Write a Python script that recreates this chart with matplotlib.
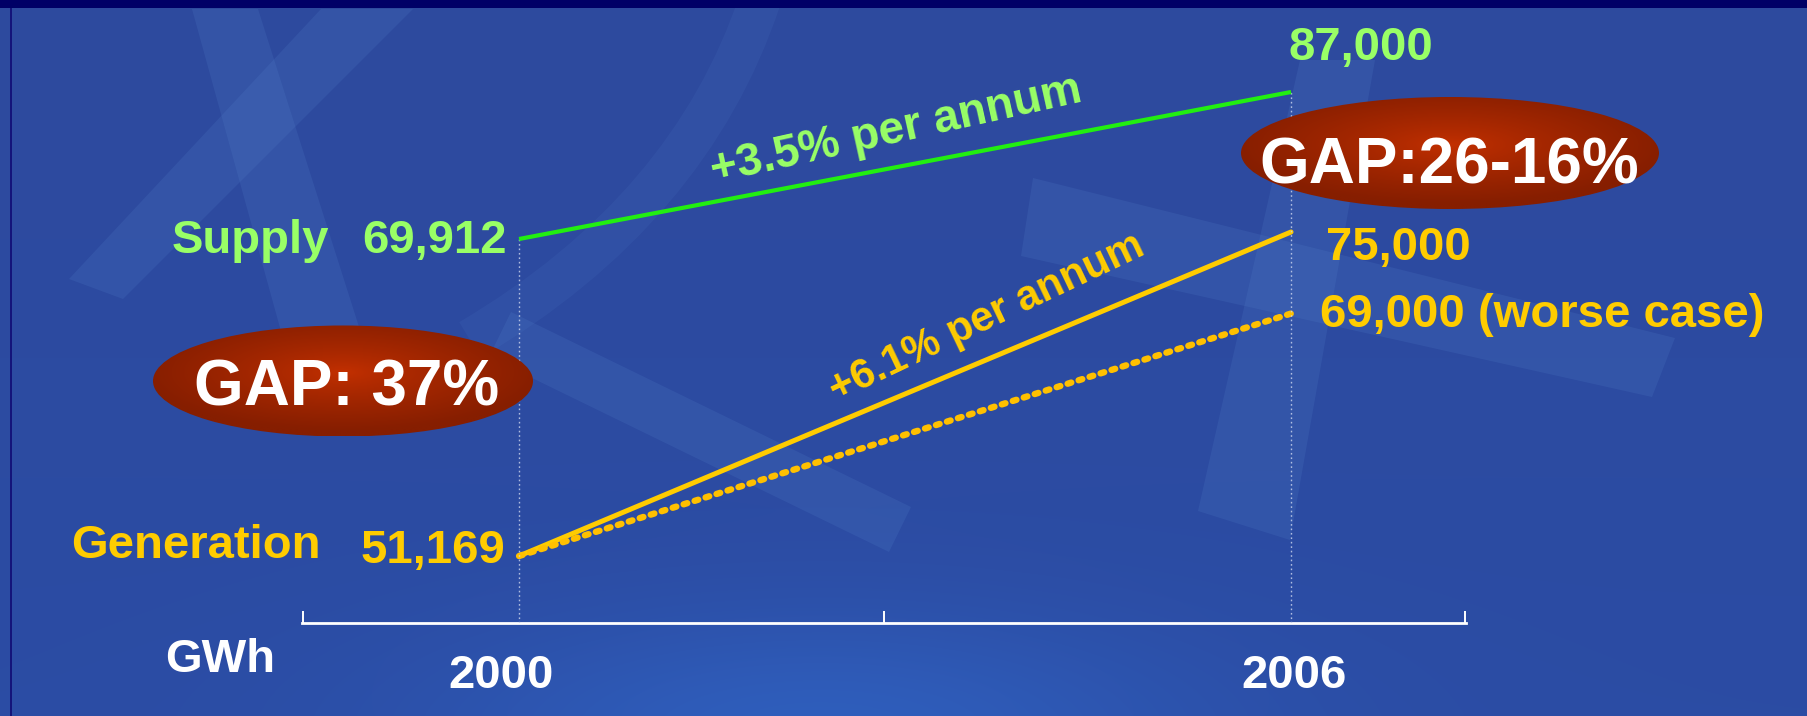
import numpy as np
import matplotlib
matplotlib.use('Agg')
import matplotlib.pyplot as plt
from matplotlib.patches import Ellipse, Polygon, Rectangle, PathPatch
from matplotlib.path import Path

# ---------------- data ----------------
years = [2000, 2006]
supply = [69912, 87000]
generation = [51169, 75000]
generation_worst = [51169, 69000]
supply_labels = ['69,912', '87,000']
generation_labels = ['51,169', '75,000']
worst_label = '69,000 (worse case)'
series_names = ['Supply', 'Generation']
year_labels = ['2000', '2006']
gap_labels = ['GAP: 37%', 'GAP:26-16%']
growth_labels = ['+3.5% per annum', '+6.1% per annum']
unit_label = 'GWh'

# ---------------- style ----------------
W, H = 1807, 716
FONT = 'Liberation Sans'
GREEN_TXT = '#99FF66'
GREEN_LINE = '#22EE11'
YELLOW = '#FFCC00'
YELLOW_D = '#FFC000'
NAVY = '#000066'

fig = plt.figure(figsize=(W / 100, H / 100), dpi=100)

# ---------------- background ----------------
bg = fig.add_axes([0, 0, 1, 1], zorder=0)
yy, xx = np.mgrid[0:H, 0:W]
base = np.array([46, 74, 158]) / 255.0
img = np.ones((H, W, 3)) * base
blob = np.exp(-(((xx - 820) / 380.0) ** 2 + ((yy - 730) / 120.0) ** 2))
img += blob[..., None] * (np.array([4, 18, 24]) / 255.0)
grad = (yy / H)[..., None] * (np.array([-3, 2, 6]) / 255.0)
img = np.clip(img + grad, 0, 1)
bg.imshow(img, extent=(0, W, H, 0), aspect='auto', interpolation='bilinear')
bg.set_xlim(0, W)
bg.set_ylim(H, 0)
bg.axis('off')

deco = (90 / 255, 140 / 255, 210 / 255)
polys = [
    [(192, 9), (258, 9), (360, 330), (282, 335)],
    [(321, 9), (413, 9), (123, 299), (69, 279)],
    [(511, 312), (911, 507), (889, 552), (489, 357)],
    [(1033, 178), (1675, 338), (1652, 397), (1021, 256)],
    [(1300, 60), (1375, 60), (1290, 540), (1198, 511)],
]
for p in polys:
    bg.add_patch(Polygon(p, closed=True, facecolor=deco, edgecolor='none', alpha=0.16))
curve = Path([(470, 340), (690, 210), (760, 0)], [Path.MOVETO, Path.CURVE3, Path.CURVE3])
bg.add_patch(PathPatch(curve, facecolor='none', edgecolor=deco, lw=30, alpha=0.1))

bg.add_patch(Rectangle((0, 0), W, 8, facecolor=NAVY, edgecolor='none'))
corner = np.linspace(0, 1, 60)[None, :, None]
cimg = (1 - corner) * np.array([0.1, 0.5, 0.8]) + corner * np.array([0, 0, 0.4])
bg.imshow(np.repeat(cimg, 4, axis=0), extent=(0, 60, 8, 0), aspect='auto')
bg.add_patch(Rectangle((10.5, 8), 2, H, facecolor='#14147A', edgecolor='none'))
bg.set_xlim(0, W)
bg.set_ylim(H, 0)

# ---------------- data axes ----------------
L, R, AXB = 302, 1466, 623
ax = fig.add_axes([L / W, (H - AXB) / H, (R - L) / W, AXB / H], zorder=1)
ax.patch.set_alpha(0)
x0, x1 = 1998.313, 2007.360
ax.set_xlim(x0, x1)
ax.set_ylim(46241, 92063)
ax2 = ax.twinx()
ax2.set_zorder(2)
ax2.set_ylim(25275, 97694)

for s in ['top', 'left', 'right']:
    ax.spines[s].set_visible(False)
for s in ax2.spines.values():
    s.set_visible(False)
ax.spines['bottom'].set_color('white')
ax.spines['bottom'].set_linewidth(2)
ax.set_xticks([x0 + 0.005, (x0 + x1) / 2, x1 - 0.005])
ax.tick_params(axis='x', direction='in', length=9, width=1.4, colors='white', labelbottom=False)
ax.set_yticks([])
ax2.set_yticks([])

# dotted guides
ax2.vlines(years, ax2.get_ylim()[0], supply, colors='#C8D2EC', lw=1.0,
           linestyles=(0, (1.2, 2.0)), alpha=0.85, zorder=1)

# lines
ax2.plot(years, supply, color=GREEN_LINE, lw=3.0, solid_capstyle='butt', zorder=3)
ax.plot(years, generation, color=YELLOW, lw=3.6, solid_capstyle='round', zorder=3)
ax.plot(years, generation_worst, color=YELLOW_D, lw=4.6, ls=(0, (0.6, 1.2)),
        dash_capstyle='round', zorder=3)

tkw = dict(fontsize=34, fontweight='bold', family=FONT, textcoords='offset pixels',
           va='baseline', annotation_clip=False)

# supply labels
ax2.annotate(series_names[0], (years[0], supply[0]), xytext=(-347, -14), ha='left',
             color=GREEN_TXT, **tkw)
ax2.annotate(supply_labels[0], (years[0], supply[0]), xytext=(-12, -14), ha='right',
             color=GREEN_TXT, **tkw)
ax2.annotate(supply_labels[1], (years[1], supply[1]), xytext=(-3, 32), ha='left',
             color=GREEN_TXT, **tkw)

# generation labels
ax.annotate(series_names[1], (years[0], generation[0]), xytext=(-448, -2), ha='left',
            color=YELLOW, **tkw)
ax.annotate(generation_labels[0], (years[0], generation[0]), xytext=(-14, -7), ha='right',
            color=YELLOW, **tkw)
ax.annotate(generation_labels[1], (years[1], generation[1]), xytext=(35, -28), ha='left',
            color=YELLOW, **tkw)
ax.annotate(worst_label, (years[1], generation_worst[1]), xytext=(29, -13), ha='left',
            color=YELLOW, **tkw)

# x-axis labels
for yr, lab, dx in zip(years, year_labels, [-18, 3]):
    ax.annotate(lab, (yr, 0), xycoords=('data', 'axes fraction'), xytext=(dx, -65),
                ha='center', color='white', **tkw)
ax.annotate(unit_label, (0, 0), xycoords='axes fraction', xytext=(-137, -49),
            ha='left', color='white', **tkw)

# ---------------- overlay: ellipses and growth notes ----------------
ov = fig.add_axes([0, 0, 1, 1], zorder=4)
ov.set_xlim(0, W)
ov.set_ylim(H, 0)
ov.axis('off')


def gradient_ellipse(cx, cy, w, h):
    e = Ellipse((cx, cy), w, h, facecolor='none', edgecolor='none')
    ov.add_patch(e)
    n = 240
    gy, gx = np.mgrid[-1:1:n * 1j, -1:1:n * 1j]
    r = np.clip(np.sqrt(gx ** 2 + (gy + 0.15) ** 2) / 1.05, 0, 1)
    c0 = np.array([196, 48, 0]) / 255.0
    c1 = np.array([134, 30, 0]) / 255.0
    im_ = c0 + (c1 - c0) * (r[..., None] ** 0.8)
    im = ov.imshow(im_, extent=(cx - w / 2, cx + w / 2, cy + h / 2, cy - h / 2),
                   aspect='auto', interpolation='bilinear', zorder=1)
    im.set_clip_path(e)


gradient_ellipse(343, 381, 380, 111)
gradient_ellipse(1450, 153, 418, 112)
ov.set_xlim(0, W)
ov.set_ylim(H, 0)

gkw = dict(fontsize=46, fontweight='bold', family=FONT, color='white', ha='center',
           va='baseline', zorder=2)
ov.text(347, 406, gap_labels[0], **gkw)
ov.text(1449, 184, gap_labels[1], **gkw)

ov.text(896, 131, growth_labels[0], fontsize=33, fontweight='bold', family=FONT,
        color=GREEN_TXT, rotation=12.5, rotation_mode='anchor', ha='center', va='center')
ov.text(987, 318, growth_labels[1], fontsize=30, fontweight='bold', family=FONT,
        color=YELLOW, rotation=25.5, rotation_mode='anchor', ha='center', va='center')

fig.savefig('out.png', dpi=100)
